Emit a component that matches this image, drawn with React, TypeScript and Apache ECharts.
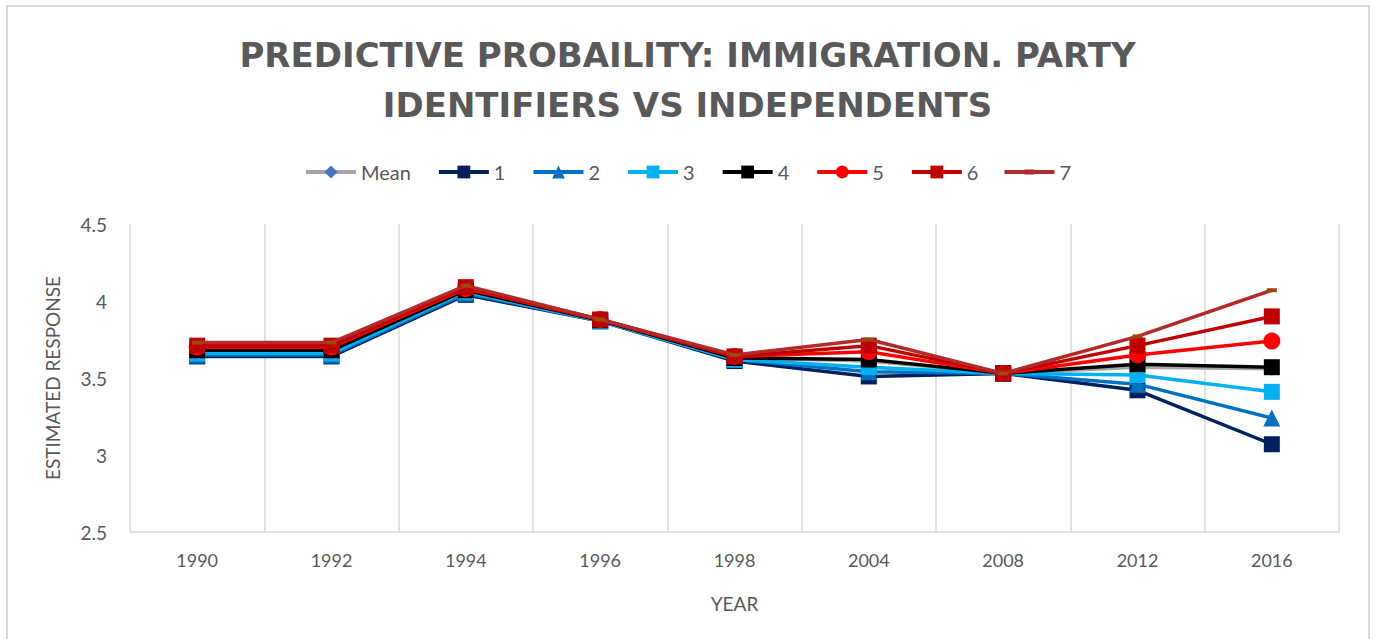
import React, { useEffect, useRef } from "react";
import * as echarts from "echarts";

const years = ["1990", "1992", "1994", "1996", "1998", "2004", "2008", "2012", "2016"];
const seriesNames = ["Mean", "1", "2", "3", "4", "5", "6", "7"];
const meanVals = [3.68, 3.68, 4.07, 3.875, 3.63, 3.61, 3.53, 3.57, 3.56];
const s1 = [3.64, 3.64, 4.04, 3.87, 3.61, 3.51, 3.53, 3.42, 3.07];
const s2 = [3.65, 3.65, 4.05, 3.87, 3.62, 3.54, 3.53, 3.46, 3.24];
const s3 = [3.66, 3.66, 4.06, 3.87, 3.62, 3.57, 3.53, 3.52, 3.41];
const s4 = [3.68, 3.68, 4.07, 3.875, 3.63, 3.62, 3.53, 3.59, 3.57];
const s5 = [3.7, 3.7, 4.08, 3.88, 3.64, 3.67, 3.53, 3.65, 3.74];
const s6 = [3.71, 3.71, 4.09, 3.88, 3.64, 3.71, 3.53, 3.71, 3.9];
const s7 = [3.73, 3.73, 4.1, 3.88, 3.65, 3.75, 3.53, 3.77, 4.07];
const yTicks = [2.5, 3, 3.5, 4, 4.5];
const titleLines = ["PREDICTIVE PROBAILITY: IMMIGRATION. PARTY", "IDENTIFIERS VS INDEPENDENTS"];

const allValues = [meanVals, s1, s2, s3, s4, s5, s6, s7];
const lineColors = ["#A5A5A5", "#002060", "#0070C0", "#00B0F0", "#000000", "#FF0000", "#C00000", "#B22A2A"];
const markColors = ["#4472C4", "#002060", "#0070C0", "#00B0F0", "#000000", "#FF0000", "#C00000", "#9E480E"];
const symbols = ["diamond", "rect", "triangle", "rect", "rect", "circle", "rect", "rect"];
const symbolSizes: any[] = [14, 16, 17, 16, 16, 17, 16, [10, 4]];

export default function App() {
  const ref = useRef<HTMLDivElement>(null);
  useEffect(() => {
    if (!ref.current) return;
    const chart = echarts.init(ref.current, null, { renderer: "svg" });
    const txt = "#595959";
    const font = "Lato";
    const titleStyle = {
      fontFamily: "DejaVu Sans",
      fontWeight: "bold",
      fontSize: 34,
      color: txt,
    };
    chart.setOption({
      animation: false,
      backgroundColor: "#ffffff",
      title: [
        { text: titleLines[0], left: "center", top: 33, textStyle: titleStyle },
        { text: titleLines[1], left: "center", top: 83, textStyle: titleStyle },
      ],
      legend: {
        data: seriesNames.map((n, i) =>
          i === 7
            ? {
                name: n,
                icon: "path://M0,6h50v4h-50z M20,5.5h10v5h-10z M0,0h0.01v16h-0.01z",
                itemStyle: { color: lineColors[7] },
              }
            : { name: n }
        ),
        top: 157,
        left: "center",
        itemWidth: 50,
        itemHeight: 16,
        itemGap: 26,
        lineStyle: { width: 4 },
        textStyle: { fontFamily: font, fontSize: 20, color: txt },
      },
      grid: { left: 130, right: 36, top: 224, bottom: 107, containLabel: false },
      xAxis: {
        type: "category",
        data: years,
        boundaryGap: true,
        axisLine: { show: true, lineStyle: { color: "#D9D9D9", width: 1.5 } },
        axisTick: { show: false },
        splitLine: { show: true, lineStyle: { color: "#D9D9D9", width: 1.5 } },
        axisLabel: { fontFamily: font, fontSize: 18, color: txt, margin: 19 },
        name: "YEAR",
        nameLocation: "middle",
        nameGap: 62,
        nameTextStyle: { fontFamily: font, fontSize: 19, color: txt },
      },
      yAxis: {
        type: "value",
        min: yTicks[0],
        max: yTicks[yTicks.length - 1],
        interval: 0.5,
        axisLine: { show: false },
        axisTick: { show: false },
        splitLine: { show: false },
        axisLabel: { fontFamily: font, fontSize: 19, color: txt, margin: 23 },
        name: "ESTIMATED RESPONSE",
        nameLocation: "middle",
        nameRotate: 90,
        nameGap: 68,
        nameTextStyle: { fontFamily: font, fontSize: 19, color: txt },
      },
      graphic: [
        {
          type: "rect",
          shape: { x: 7, y: 6, width: 1362, height: 660 },
          style: { fill: "none", stroke: "#D9D9D9", lineWidth: 2 },
          silent: true,
        },
      ],
      series: seriesNames.map((name, i) => ({
        name,
        type: "line",
        data: allValues[i],
        symbol: symbols[i],
        symbolSize: symbolSizes[i],
        showAllSymbol: true,
        lineStyle: { color: lineColors[i], width: 3.5 },
        itemStyle: { color: markColors[i], borderWidth: 0 },
        z: 2 + i,
      })),
    });
    return () => chart.dispose();
  }, []);
  return (
    <div
      ref={ref}
      style={{ position: "absolute", left: 0, top: 0, width: 1375, height: 639 }}
    />
  );
}
